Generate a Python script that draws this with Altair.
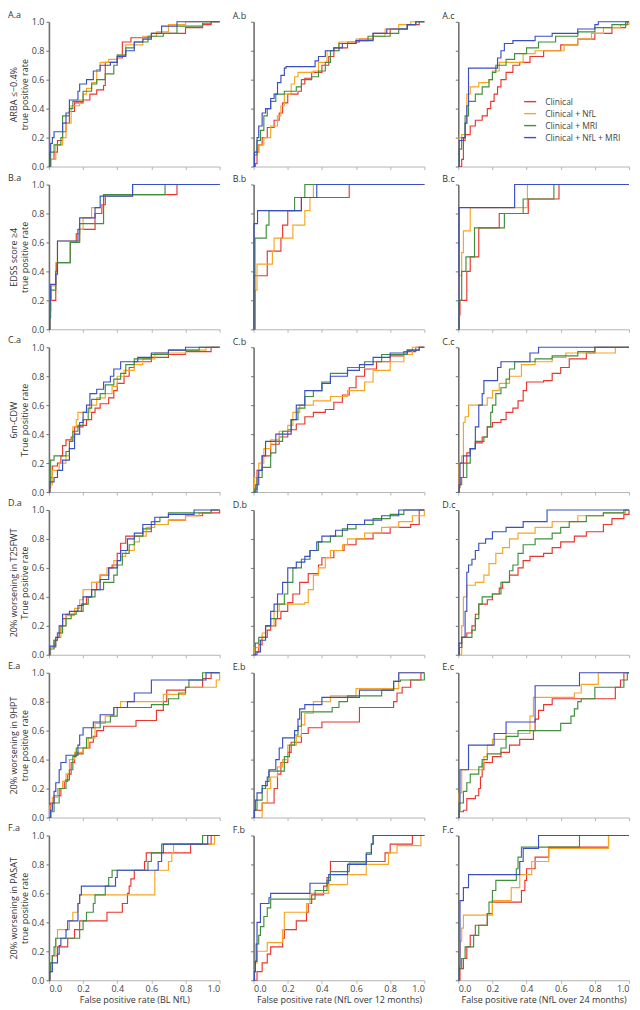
import altair as alt
import pandas as pd

SERIES = ["Clinical", "Clinical + NfL", "Clinical + MRI", "Clinical + NfL + MRI"]
COLORS = ["#e8362f", "#f5a623", "#3f8f3f", "#3a4fc4"]
ROWS = ["A", "B", "C", "D", "E", "F"]
COLS = ["a", "b", "c"]
Y_TITLES = [
    ["ARBA \u2264\u22120.4%", "true positive rate"],
    ["EDSS score \u22654", "true positive rate"],
    ["6m-CDW", "True positive rate"],
    ["20% worsening in T25FWT", "True positive rate"],
    ["20% worsening in 9HPT", "true positive rate"],
    ["20% worsening in PASAT", "true positive rate"],
]
X_TITLES = [
    "False positive rate (BL NfL)",
    "False positive rate (NfL over 12 months)",
    "False positive rate (NfL over 24 months)",
]
TICKS = [0.0, 0.2, 0.4, 0.6, 0.8, 1.0]

# ---- ROC curves: (false positive rate, true positive rate after the step) ----
Aa_clin = [(0,0),(0.01,0.05),(0.03,0.1),(0.05,0.18),(0.08,0.24),(0.1,0.3),(0.12,0.38),(0.15,0.44),(0.2,0.46),(0.24,0.5),(0.28,0.53),(0.32,0.56),(0.33,0.72),(0.4,0.75),(0.43,0.86),(0.48,0.89),(0.6,0.92),(0.8,0.96),(0.9,0.98),(0.95,1.0),(1.0,1.0)]
Aa_nfl = [(0,0),(0.01,0.05),(0.04,0.15),(0.08,0.2),(0.1,0.3),(0.13,0.42),(0.18,0.46),(0.2,0.5),(0.22,0.54),(0.25,0.58),(0.28,0.67),(0.3,0.72),(0.35,0.74),(0.4,0.77),(0.45,0.84),(0.55,0.9),(0.63,0.93),(0.7,0.98),(0.8,1.0),(1.0,1.0)]
Aa_mri = [(0,0),(0.01,0.1),(0.03,0.15),(0.07,0.2),(0.08,0.35),(0.12,0.4),(0.14,0.45),(0.2,0.52),(0.25,0.57),(0.28,0.6),(0.33,0.64),(0.38,0.7),(0.4,0.77),(0.45,0.82),(0.5,0.86),(0.58,0.9),(0.67,0.92),(0.75,0.97),(0.9,0.99),(0.95,1.0),(1.0,1.0)]
Aa_all = [(0,0),(0.005,0.1),(0.01,0.16),(0.02,0.2),(0.03,0.24),(0.08,0.3),(0.1,0.37),(0.12,0.46),(0.17,0.52),(0.18,0.57),(0.22,0.6),(0.26,0.66),(0.3,0.7),(0.36,0.72),(0.4,0.76),(0.45,0.8),(0.5,0.86),(0.55,0.88),(0.6,0.92),(0.66,0.97),(0.75,1.0),(1.0,1.0)]

Ab_clin = [(0,0),(0.01,0.02),(0.02,0.1),(0.03,0.15),(0.05,0.2),(0.08,0.27),(0.12,0.32),(0.15,0.37),(0.17,0.44),(0.2,0.5),(0.26,0.52),(0.28,0.57),(0.3,0.61),(0.34,0.65),(0.4,0.7),(0.44,0.76),(0.47,0.82),(0.55,0.86),(0.62,0.88),(0.7,0.92),(0.8,0.95),(0.9,0.98),(0.97,1.0),(1.0,1.0)]
Ab_nfl = [(0,0),(0.005,0.1),(0.03,0.15),(0.06,0.2),(0.1,0.28),(0.14,0.35),(0.16,0.42),(0.18,0.5),(0.22,0.57),(0.24,0.62),(0.26,0.65),(0.35,0.66),(0.38,0.72),(0.43,0.8),(0.5,0.86),(0.6,0.88),(0.7,0.9),(0.77,0.95),(0.85,0.98),(0.92,1.0),(1.0,1.0)]
Ab_mri = [(0,0),(0.005,0.08),(0.02,0.18),(0.04,0.25),(0.06,0.35),(0.08,0.4),(0.1,0.45),(0.13,0.5),(0.18,0.52),(0.25,0.55),(0.28,0.6),(0.34,0.62),(0.38,0.66),(0.42,0.72),(0.45,0.8),(0.5,0.85),(0.6,0.87),(0.67,0.9),(0.8,0.92),(0.85,0.95),(0.9,0.98),(0.95,1.0),(1.0,1.0)]
Ab_all = [(0,0),(0.005,0.1),(0.02,0.2),(0.03,0.28),(0.05,0.37),(0.07,0.4),(0.1,0.47),(0.12,0.5),(0.14,0.58),(0.16,0.63),(0.18,0.68),(0.19,0.69),(0.36,0.73),(0.38,0.76),(0.42,0.8),(0.47,0.82),(0.52,0.85),(0.6,0.87),(0.7,0.92),(0.78,0.95),(0.9,0.98),(0.95,1.0),(1.0,1.0)]

Ac_clin = [(0,0),(0.02,0.05),(0.03,0.18),(0.04,0.22),(0.07,0.28),(0.1,0.32),(0.14,0.35),(0.17,0.4),(0.19,0.45),(0.21,0.5),(0.23,0.55),(0.25,0.6),(0.28,0.65),(0.32,0.7),(0.36,0.72),(0.42,0.76),(0.5,0.8),(0.6,0.84),(0.7,0.88),(0.8,0.92),(0.9,0.96),(0.98,1.0),(1.0,1.0)]
Ac_nfl = [(0,0),(0.005,0.2),(0.02,0.22),(0.04,0.3),(0.05,0.5),(0.07,0.55),(0.12,0.58),(0.18,0.6),(0.2,0.66),(0.24,0.72),(0.38,0.78),(0.45,0.8),(0.62,0.84),(0.7,0.88),(0.78,0.92),(0.85,0.96),(0.95,0.98),(1.0,1.0)]
Ac_mri = [(0,0),(0.005,0.12),(0.02,0.2),(0.04,0.35),(0.06,0.45),(0.1,0.5),(0.14,0.55),(0.18,0.6),(0.2,0.65),(0.22,0.7),(0.28,0.74),(0.33,0.78),(0.4,0.82),(0.47,0.86),(0.57,0.9),(0.7,0.93),(0.8,0.96),(0.9,0.98),(0.99,1.0),(1.0,1.0)]
Ac_all = [(0,0),(0.005,0.18),(0.03,0.2),(0.04,0.3),(0.05,0.42),(0.06,0.68),(0.23,0.75),(0.25,0.8),(0.27,0.85),(0.32,0.87),(0.45,0.9),(0.55,0.92),(0.7,0.95),(0.8,0.98),(0.82,1.0),(1.0,1.0)]

Ba_clin = [(0,0),(0.005,0.13),(0.01,0.2),(0.04,0.4),(0.045,0.46),(0.125,0.6),(0.16,0.66),(0.18,0.69),(0.27,0.8),(0.31,0.86),(0.33,0.93),(0.75,1.0),(1.0,1.0)]
Ba_nfl = [(0,0),(0.005,0.2),(0.015,0.3),(0.04,0.46),(0.05,0.61),(0.18,0.69),(0.2,0.77),(0.25,0.84),(0.32,0.92),(0.49,1.0),(1.0,1.0)]
Ba_mri = [(0,0),(0.005,0.08),(0.01,0.27),(0.04,0.4),(0.05,0.46),(0.125,0.6),(0.18,0.73),(0.32,0.93),(0.68,1.0),(1.0,1.0)]
Ba_all = [(0,0),(0.005,0.2),(0.01,0.31),(0.04,0.38),(0.05,0.61),(0.17,0.69),(0.18,0.77),(0.27,0.84),(0.3,0.92),(0.49,1.0),(1.0,1.0)]

Bb_clin = [(0,0),(0.003,0.37),(0.08,0.54),(0.16,0.63),(0.17,0.72),(0.2,0.82),(0.28,0.91),(0.56,1.0),(1.0,1.0)]
Bb_nfl = [(0,0),(0.01,0.27),(0.02,0.45),(0.11,0.54),(0.12,0.63),(0.23,0.72),(0.3,0.82),(0.33,0.91),(0.35,1.0),(1.0,1.0)]
Bb_mri = [(0,0),(0.008,0.63),(0.074,0.72),(0.09,0.82),(0.24,0.91),(0.3,1.0),(1.0,1.0)]
Bb_all = [(0,0),(0.002,0.73),(0.023,0.82),(0.28,0.91),(0.37,1.0),(1.0,1.0)]

Bc_clin = [(0,0),(0.005,0.1),(0.01,0.2),(0.05,0.4),(0.07,0.5),(0.12,0.7),(0.24,0.8),(0.41,0.9),(0.59,1.0),(1.0,1.0)]
Bc_nfl = [(0,0),(0.006,0.37),(0.02,0.53),(0.03,0.68),(0.07,0.84),(0.405,1.0),(1.0,1.0)]
Bc_mri = [(0,0),(0.004,0.2),(0.02,0.4),(0.045,0.5),(0.095,0.7),(0.27,0.8),(0.38,0.9),(0.56,1.0),(1.0,1.0)]
Bc_all = [(0,0),(0.005,0.84),(0.33,1.0),(1.0,1.0)]

Ca_clin = [(0,0),(0.005,0.03),(0.01,0.1),(0.02,0.18),(0.05,0.2),(0.07,0.25),(0.08,0.32),(0.1,0.36),(0.13,0.38),(0.15,0.45),(0.2,0.46),(0.22,0.5),(0.25,0.55),(0.27,0.58),(0.3,0.61),(0.35,0.65),(0.38,0.7),(0.4,0.75),(0.44,0.8),(0.47,0.86),(0.5,0.9),(0.6,0.93),(0.7,0.95),(0.8,0.97),(0.95,1.0),(1.0,1.0)]
Ca_nfl = [(0,0),(0.005,0.05),(0.02,0.15),(0.06,0.2),(0.1,0.25),(0.12,0.35),(0.14,0.45),(0.16,0.5),(0.17,0.55),(0.24,0.6),(0.28,0.65),(0.33,0.68),(0.37,0.73),(0.4,0.8),(0.44,0.84),(0.5,0.88),(0.55,0.92),(0.62,0.96),(0.8,0.98),(0.92,1.0),(1.0,1.0)]
Ca_mri = [(0,0),(0.005,0.07),(0.01,0.22),(0.03,0.25),(0.1,0.28),(0.12,0.35),(0.14,0.42),(0.17,0.46),(0.2,0.5),(0.23,0.58),(0.25,0.64),(0.3,0.68),(0.33,0.74),(0.38,0.78),(0.42,0.82),(0.45,0.88),(0.5,0.92),(0.6,0.95),(0.7,0.98),(0.88,1.0),(1.0,1.0)]
Ca_all = [(0,0),(0.005,0.07),(0.03,0.1),(0.05,0.15),(0.08,0.22),(0.12,0.3),(0.15,0.4),(0.18,0.48),(0.2,0.55),(0.22,0.6),(0.24,0.68),(0.28,0.71),(0.32,0.76),(0.36,0.8),(0.38,0.85),(0.42,0.9),(0.52,0.93),(0.6,0.96),(0.7,0.98),(0.8,1.0),(1.0,1.0)]

Cb_clin = [(0,0),(0.01,0.05),(0.02,0.15),(0.05,0.25),(0.1,0.33),(0.15,0.38),(0.2,0.43),(0.25,0.47),(0.3,0.52),(0.35,0.55),(0.42,0.57),(0.47,0.62),(0.52,0.67),(0.56,0.72),(0.6,0.8),(0.65,0.85),(0.72,0.9),(0.8,0.94),(0.88,0.97),(0.95,1.0),(1.0,1.0)]
Cb_nfl = [(0,0),(0.005,0.1),(0.03,0.2),(0.06,0.3),(0.1,0.36),(0.15,0.42),(0.2,0.46),(0.23,0.55),(0.27,0.6),(0.35,0.63),(0.45,0.66),(0.55,0.7),(0.65,0.76),(0.7,0.84),(0.8,0.9),(0.88,0.95),(0.93,1.0),(1.0,1.0)]
Cb_mri = [(0,0),(0.005,0.02),(0.02,0.1),(0.05,0.17),(0.1,0.27),(0.13,0.35),(0.17,0.42),(0.22,0.5),(0.26,0.58),(0.3,0.66),(0.35,0.7),(0.4,0.76),(0.45,0.82),(0.55,0.86),(0.65,0.9),(0.75,0.95),(0.9,0.98),(0.97,1.0),(1.0,1.0)]
Cb_all = [(0,0),(0.02,0.05),(0.03,0.15),(0.05,0.25),(0.07,0.35),(0.13,0.4),(0.22,0.5),(0.25,0.6),(0.3,0.7),(0.4,0.75),(0.45,0.8),(0.55,0.84),(0.62,0.88),(0.7,0.93),(0.8,0.96),(0.9,0.98),(0.97,1.0),(1.0,1.0)]

Cc_clin = [(0,0),(0.005,0.03),(0.01,0.1),(0.03,0.2),(0.05,0.27),(0.07,0.3),(0.1,0.34),(0.14,0.38),(0.17,0.45),(0.2,0.48),(0.25,0.5),(0.28,0.55),(0.32,0.58),(0.35,0.63),(0.38,0.7),(0.4,0.76),(0.5,0.77),(0.55,0.82),(0.6,0.86),(0.65,0.92),(0.75,0.96),(0.8,1.0),(1.0,1.0)]
Cc_nfl = [(0,0),(0.005,0.2),(0.02,0.25),(0.03,0.48),(0.04,0.52),(0.06,0.6),(0.17,0.65),(0.2,0.7),(0.24,0.75),(0.3,0.8),(0.37,0.88),(0.45,0.9),(0.55,0.93),(0.63,0.96),(0.92,1.0),(1.0,1.0)]
Cc_mri = [(0,0),(0.005,0.05),(0.02,0.1),(0.05,0.2),(0.07,0.3),(0.1,0.35),(0.15,0.38),(0.17,0.45),(0.19,0.55),(0.2,0.6),(0.22,0.68),(0.25,0.72),(0.28,0.78),(0.3,0.85),(0.33,0.9),(0.45,0.92),(0.55,0.94),(0.7,0.97),(0.8,1.0),(1.0,1.0)]
Cc_all = [(0,0),(0.005,0.05),(0.01,0.2),(0.03,0.25),(0.07,0.3),(0.1,0.45),(0.12,0.6),(0.14,0.68),(0.15,0.77),(0.23,0.86),(0.25,0.9),(0.42,0.96),(0.47,1.0),(1.0,1.0)]

Da_clin = [(0,0),(0.005,0.05),(0.03,0.1),(0.05,0.15),(0.07,0.2),(0.08,0.25),(0.1,0.28),(0.15,0.3),(0.19,0.35),(0.22,0.4),(0.25,0.45),(0.28,0.5),(0.3,0.55),(0.35,0.6),(0.37,0.62),(0.4,0.7),(0.42,0.77),(0.45,0.82),(0.55,0.85),(0.6,0.9),(0.7,0.93),(0.8,0.96),(0.9,0.98),(1.0,1.0)]
Da_nfl = [(0,0),(0.01,0.05),(0.04,0.12),(0.07,0.2),(0.1,0.27),(0.15,0.32),(0.18,0.38),(0.2,0.45),(0.25,0.5),(0.3,0.55),(0.34,0.6),(0.38,0.65),(0.42,0.68),(0.45,0.72),(0.5,0.78),(0.53,0.82),(0.57,0.88),(0.62,0.9),(0.7,0.93),(0.8,0.96),(0.88,0.98),(0.95,1.0),(1.0,1.0)]
Da_mri = [(0,0),(0.005,0.04),(0.03,0.1),(0.05,0.15),(0.08,0.2),(0.1,0.25),(0.13,0.28),(0.16,0.3),(0.2,0.35),(0.23,0.4),(0.27,0.45),(0.32,0.5),(0.38,0.55),(0.4,0.62),(0.43,0.7),(0.47,0.76),(0.5,0.82),(0.55,0.87),(0.6,0.92),(0.65,0.95),(0.7,0.98),(0.95,1.0),(1.0,1.0)]
Da_all = [(0,0),(0.005,0.06),(0.04,0.12),(0.06,0.2),(0.08,0.28),(0.12,0.3),(0.17,0.34),(0.2,0.4),(0.25,0.45),(0.3,0.52),(0.35,0.6),(0.4,0.65),(0.42,0.72),(0.46,0.8),(0.5,0.84),(0.55,0.9),(0.62,0.95),(0.7,0.97),(0.85,1.0),(1.0,1.0)]

Db_clin = [(0,0),(0.01,0.02),(0.03,0.07),(0.05,0.12),(0.08,0.17),(0.1,0.2),(0.13,0.25),(0.16,0.3),(0.2,0.36),(0.23,0.42),(0.27,0.5),(0.32,0.56),(0.38,0.62),(0.4,0.67),(0.47,0.72),(0.53,0.76),(0.6,0.8),(0.7,0.84),(0.8,0.88),(0.92,0.9),(0.97,1.0),(1.0,1.0)]
Db_nfl = [(0,0),(0.005,0.05),(0.03,0.1),(0.05,0.15),(0.07,0.2),(0.12,0.3),(0.15,0.35),(0.3,0.36),(0.32,0.45),(0.35,0.55),(0.38,0.6),(0.42,0.67),(0.45,0.72),(0.52,0.76),(0.55,0.8),(0.65,0.84),(0.75,0.88),(0.85,0.92),(0.93,0.96),(1.0,1.0)]
Db_mri = [(0,0),(0.01,0.08),(0.03,0.12),(0.07,0.2),(0.1,0.25),(0.14,0.35),(0.18,0.42),(0.2,0.5),(0.23,0.6),(0.28,0.66),(0.33,0.72),(0.38,0.78),(0.45,0.82),(0.52,0.87),(0.6,0.9),(0.7,0.94),(0.8,0.97),(0.88,1.0),(1.0,1.0)]
Db_all = [(0,0),(0.02,0.02),(0.04,0.1),(0.07,0.2),(0.1,0.3),(0.12,0.35),(0.14,0.42),(0.17,0.5),(0.2,0.6),(0.25,0.64),(0.3,0.68),(0.33,0.72),(0.37,0.78),(0.4,0.82),(0.48,0.86),(0.55,0.9),(0.65,0.93),(0.75,0.96),(0.85,1.0),(1.0,1.0)]

Dc_clin = [(0,0),(0.005,0.05),(0.02,0.12),(0.05,0.15),(0.08,0.2),(0.1,0.28),(0.12,0.35),(0.17,0.38),(0.2,0.42),(0.24,0.46),(0.26,0.5),(0.3,0.55),(0.35,0.6),(0.38,0.65),(0.42,0.68),(0.5,0.7),(0.55,0.74),(0.6,0.78),(0.68,0.82),(0.75,0.85),(0.85,0.9),(0.9,0.94),(0.97,0.97),(1.0,1.0)]
Dc_nfl = [(0,0),(0.02,0.2),(0.03,0.4),(0.05,0.48),(0.1,0.5),(0.15,0.55),(0.18,0.63),(0.22,0.7),(0.26,0.74),(0.3,0.8),(0.35,0.84),(0.45,0.88),(0.55,0.92),(0.7,0.96),(0.85,0.98),(0.98,1.0),(1.0,1.0)]
Dc_mri = [(0,0),(0.005,0.05),(0.02,0.12),(0.08,0.17),(0.1,0.25),(0.12,0.35),(0.14,0.4),(0.2,0.42),(0.25,0.5),(0.3,0.58),(0.32,0.62),(0.35,0.7),(0.38,0.76),(0.45,0.8),(0.55,0.84),(0.6,0.88),(0.65,0.92),(0.75,0.96),(0.85,0.98),(0.97,1.0),(1.0,1.0)]
Dc_all = [(0,0),(0.005,0.08),(0.02,0.12),(0.04,0.3),(0.05,0.57),(0.06,0.62),(0.08,0.66),(0.1,0.72),(0.12,0.77),(0.16,0.8),(0.2,0.85),(0.28,0.88),(0.38,0.92),(0.52,1.0),(1.0,1.0)]

Ea_clin = [(0,0),(0.01,0.1),(0.03,0.15),(0.07,0.2),(0.09,0.25),(0.11,0.3),(0.13,0.38),(0.15,0.44),(0.2,0.48),(0.24,0.52),(0.26,0.56),(0.28,0.6),(0.32,0.63),(0.51,0.67),(0.63,0.74),(0.67,0.8),(0.69,0.88),(0.8,0.9),(0.9,0.96),(0.95,1.0),(1.0,1.0)]
Ea_nfl = [(0,0),(0.005,0.08),(0.02,0.14),(0.05,0.2),(0.08,0.25),(0.1,0.3),(0.12,0.4),(0.15,0.45),(0.2,0.48),(0.23,0.55),(0.27,0.65),(0.33,0.7),(0.38,0.76),(0.42,0.8),(0.67,0.85),(0.8,0.9),(0.98,0.95),(1.0,1.0)]
Ea_mri = [(0,0),(0.01,0.04),(0.03,0.1),(0.06,0.2),(0.1,0.26),(0.12,0.33),(0.14,0.42),(0.16,0.48),(0.22,0.55),(0.25,0.62),(0.3,0.66),(0.36,0.7),(0.4,0.76),(0.6,0.78),(0.7,0.82),(0.76,0.86),(0.8,0.9),(0.82,0.95),(0.9,1.0),(1.0,1.0)]
Ea_all = [(0,0),(0.01,0.05),(0.02,0.1),(0.03,0.18),(0.04,0.24),(0.06,0.33),(0.07,0.38),(0.1,0.43),(0.17,0.5),(0.18,0.57),(0.2,0.62),(0.26,0.66),(0.3,0.71),(0.38,0.76),(0.46,0.8),(0.5,0.86),(0.6,0.95),(0.92,1.0),(1.0,1.0)]

Eb_clin = [(0,0),(0.005,0.05),(0.05,0.1),(0.12,0.2),(0.14,0.3),(0.16,0.38),(0.2,0.45),(0.22,0.52),(0.28,0.58),(0.32,0.62),(0.4,0.66),(0.62,0.76),(0.82,0.8),(0.84,0.86),(0.87,0.9),(0.92,0.95),(0.98,1.0),(1.0,1.0)]
Eb_nfl = [(0,0),(0.05,0.1),(0.08,0.2),(0.1,0.28),(0.14,0.35),(0.17,0.4),(0.2,0.5),(0.25,0.56),(0.28,0.64),(0.3,0.72),(0.35,0.8),(0.45,0.84),(0.6,0.89),(0.85,1.0),(1.0,1.0)]
Eb_mri = [(0,0),(0.005,0.05),(0.02,0.12),(0.05,0.2),(0.07,0.25),(0.09,0.32),(0.18,0.42),(0.21,0.5),(0.24,0.57),(0.26,0.63),(0.28,0.73),(0.46,0.76),(0.5,0.8),(0.55,0.84),(0.75,0.88),(0.82,0.94),(0.86,0.95),(1.0,1.0)]
Eb_all = [(0,0),(0.005,0.05),(0.01,0.12),(0.02,0.17),(0.05,0.22),(0.08,0.28),(0.09,0.33),(0.13,0.4),(0.15,0.48),(0.17,0.55),(0.24,0.6),(0.26,0.68),(0.27,0.75),(0.3,0.78),(0.4,0.83),(0.62,0.88),(0.82,0.94),(0.85,1.0),(1.0,1.0)]

Ec_clin = [(0,0),(0.005,0.04),(0.03,0.05),(0.05,0.13),(0.1,0.15),(0.12,0.2),(0.13,0.28),(0.14,0.33),(0.15,0.38),(0.2,0.42),(0.25,0.45),(0.3,0.5),(0.36,0.54),(0.44,0.6),(0.45,0.68),(0.47,0.74),(0.5,0.78),(0.55,0.82),(0.92,0.9),(0.95,0.95),(0.97,1.0),(1.0,1.0)]
Ec_nfl = [(0,0),(0.005,0.17),(0.02,0.33),(0.14,0.38),(0.15,0.42),(0.17,0.5),(0.2,0.54),(0.28,0.58),(0.42,0.7),(0.44,0.83),(0.68,0.86),(0.72,0.92),(0.82,1.0),(1.0,1.0)]
Ec_mri = [(0,0),(0.005,0.05),(0.01,0.1),(0.03,0.18),(0.05,0.24),(0.07,0.3),(0.12,0.35),(0.14,0.4),(0.17,0.44),(0.25,0.48),(0.28,0.56),(0.35,0.6),(0.6,0.65),(0.66,0.7),(0.68,0.75),(0.7,0.8),(0.72,0.82),(0.8,0.9),(0.97,0.95),(0.99,1.0),(1.0,1.0)]
Ec_all = [(0,0),(0.005,0.1),(0.01,0.33),(0.06,0.5),(0.21,0.58),(0.28,0.66),(0.45,0.91),(0.71,1.0),(1.0,1.0)]

Fa_clin = [(0,0),(0.005,0.06),(0.01,0.12),(0.02,0.17),(0.05,0.23),(0.11,0.29),(0.15,0.35),(0.18,0.41),(0.34,0.47),(0.43,0.53),(0.46,0.6),(0.47,0.65),(0.48,0.7),(0.5,0.76),(0.56,0.82),(0.57,0.88),(0.83,0.94),(0.95,1.0),(1.0,1.0)]
Fa_nfl = [(0,0),(0.005,0.06),(0.02,0.17),(0.04,0.29),(0.05,0.35),(0.12,0.41),(0.14,0.47),(0.17,0.53),(0.18,0.59),(0.62,0.76),(0.7,0.82),(0.72,0.88),(0.73,0.94),(0.97,1.0),(1.0,1.0)]
Fa_mri = [(0,0),(0.005,0.06),(0.01,0.12),(0.02,0.17),(0.03,0.23),(0.04,0.29),(0.18,0.35),(0.2,0.41),(0.22,0.47),(0.26,0.53),(0.27,0.59),(0.33,0.65),(0.35,0.71),(0.37,0.76),(0.58,0.82),(0.6,0.88),(0.66,0.94),(0.9,1.0),(1.0,1.0)]
Fa_all = [(0,0),(0.005,0.06),(0.02,0.12),(0.05,0.18),(0.06,0.24),(0.07,0.29),(0.1,0.35),(0.11,0.41),(0.17,0.53),(0.18,0.59),(0.19,0.65),(0.39,0.71),(0.4,0.76),(0.64,0.82),(0.66,0.88),(0.67,0.94),(0.93,1.0),(1.0,1.0)]

Fb_clin = [(0,0),(0.02,0.06),(0.05,0.12),(0.08,0.18),(0.1,0.23),(0.17,0.29),(0.18,0.35),(0.25,0.41),(0.31,0.47),(0.32,0.53),(0.34,0.59),(0.41,0.65),(0.43,0.71),(0.45,0.82),(0.77,0.88),(0.8,0.94),(0.93,1.0),(1.0,1.0)]
Fb_nfl = [(0,0),(0.005,0.06),(0.01,0.12),(0.02,0.2),(0.08,0.26),(0.17,0.35),(0.18,0.47),(0.31,0.53),(0.33,0.6),(0.44,0.66),(0.55,0.73),(0.66,0.8),(0.79,0.88),(0.84,0.93),(0.98,1.0),(1.0,1.0)]
Fb_mri = [(0,0),(0.005,0.06),(0.01,0.13),(0.02,0.25),(0.03,0.31),(0.04,0.37),(0.06,0.44),(0.08,0.5),(0.1,0.56),(0.36,0.62),(0.43,0.69),(0.45,0.75),(0.56,0.81),(0.66,0.88),(0.69,0.94),(0.7,1.0),(1.0,1.0)]
Fb_all = [(0,0),(0.005,0.06),(0.01,0.13),(0.015,0.25),(0.02,0.4),(0.04,0.53),(0.09,0.57),(0.1,0.6),(0.33,0.67),(0.44,0.73),(0.55,0.8),(0.66,0.87),(0.69,0.94),(0.7,1.0),(1.0,1.0)]

Fc_clin = [(0,0),(0.01,0.08),(0.03,0.15),(0.05,0.23),(0.07,0.31),(0.1,0.38),(0.17,0.46),(0.2,0.54),(0.37,0.62),(0.39,0.69),(0.4,0.77),(0.45,0.85),(0.53,0.92),(0.88,1.0),(1.0,1.0)]
Fc_nfl = [(0,0),(0.005,0.09),(0.01,0.27),(0.02,0.36),(0.03,0.45),(0.2,0.55),(0.31,0.64),(0.36,0.73),(0.43,0.82),(0.53,0.91),(0.88,1.0),(1.0,1.0)]
Fc_mri = [(0,0),(0.005,0.08),(0.02,0.15),(0.04,0.23),(0.09,0.31),(0.12,0.38),(0.17,0.46),(0.18,0.54),(0.2,0.62),(0.22,0.69),(0.34,0.77),(0.35,0.85),(0.37,0.92),(0.71,1.0),(1.0,1.0)]
Fc_all = [(0,0),(0.005,0.09),(0.01,0.55),(0.03,0.64),(0.06,0.73),(0.36,0.82),(0.38,0.91),(0.47,1.0),(1.0,1.0)]

CURVES = {
    ("A", "a"): [Aa_clin, Aa_nfl, Aa_mri, Aa_all],
    ("A", "b"): [Ab_clin, Ab_nfl, Ab_mri, Ab_all],
    ("A", "c"): [Ac_clin, Ac_nfl, Ac_mri, Ac_all],
    ("B", "a"): [Ba_clin, Ba_nfl, Ba_mri, Ba_all],
    ("B", "b"): [Bb_clin, Bb_nfl, Bb_mri, Bb_all],
    ("B", "c"): [Bc_clin, Bc_nfl, Bc_mri, Bc_all],
    ("C", "a"): [Ca_clin, Ca_nfl, Ca_mri, Ca_all],
    ("C", "b"): [Cb_clin, Cb_nfl, Cb_mri, Cb_all],
    ("C", "c"): [Cc_clin, Cc_nfl, Cc_mri, Cc_all],
    ("D", "a"): [Da_clin, Da_nfl, Da_mri, Da_all],
    ("D", "b"): [Db_clin, Db_nfl, Db_mri, Db_all],
    ("D", "c"): [Dc_clin, Dc_nfl, Dc_mri, Dc_all],
    ("E", "a"): [Ea_clin, Ea_nfl, Ea_mri, Ea_all],
    ("E", "b"): [Eb_clin, Eb_nfl, Eb_mri, Eb_all],
    ("E", "c"): [Ec_clin, Ec_nfl, Ec_mri, Ec_all],
    ("F", "a"): [Fa_clin, Fa_nfl, Fa_mri, Fa_all],
    ("F", "b"): [Fb_clin, Fb_nfl, Fb_mri, Fb_all],
    ("F", "c"): [Fc_clin, Fc_nfl, Fc_mri, Fc_all],
}

W, H = 171, 145
FONT = "Open Sans"
TXT = "#333333"
TITLE_DX = [-41, -21, -16]


def panel(ri, ci):
    r, c = ROWS[ri], COLS[ci]
    recs = []
    for s, pts in zip(SERIES, CURVES[(r, c)]):
        for i, (x, y) in enumerate(pts):
            recs.append({"series": s, "idx": i, "fpr": x, "tpr": y})
    df = pd.DataFrame(recs)

    xkw = dict(values=TICKS, format=".1f", grid=False, domainColor="#b5b5b5",
               domainWidth=1, tickColor="#b5b5b5", tickSize=3,
               labelFontSize=9, labelColor="#444444", labelPadding=1,
               titleFontSize=9, titleFontWeight="normal", titleColor=TXT,
               titlePadding=2)
    if ri == len(ROWS) - 1:
        xkw.update(labels=True, title=X_TITLES[ci])
    else:
        xkw.update(labels=False, title=None)

    ykw = dict(values=TICKS, format=".1f", grid=False, domainColor="#707070",
               domainWidth=1.6, tickColor="#707070", tickSize=3,
               labelFontSize=9, labelColor="#444444", labelPadding=2,
               titleFontSize=9, titleFontWeight="normal", titleColor=TXT,
               titlePadding=2, titleLineHeight=11)
    if ci == 0:
        ykw.update(labels=True, title=Y_TITLES[ri])
    else:
        ykw.update(labels=False, title=None)

    return (
        alt.Chart(df)
        .mark_line(interpolate="step-after", strokeWidth=1.15)
        .encode(
            x=alt.X("fpr:Q", scale=alt.Scale(domain=[0, 1], nice=False), axis=alt.Axis(**xkw)),
            y=alt.Y("tpr:Q", scale=alt.Scale(domain=[0, 1], nice=False), axis=alt.Axis(**ykw)),
            color=alt.Color(
                "series:N",
                scale=alt.Scale(domain=SERIES, range=COLORS),
                legend=alt.Legend(
                    title=None, orient="none", legendX=475, legendY=73,
                    symbolType="stroke", symbolStrokeWidth=1.4, symbolSize=144,
                    labelFontSize=8.5, labelColor="#444444", labelFont=FONT,
                    rowPadding=0, labelOffset=8,
                ),
            ),
            order=alt.Order("idx:Q"),
        )
        .properties(
            width=W, height=H,
            title=alt.TitleParams(
                text=f"{r}.{c}", anchor="start", frame="group", dx=TITLE_DX[ci],
                fontSize=9, fontWeight="normal", color=TXT, font=FONT, offset=-2,
            ),
        )
    )


panels = [panel(ri, ci) for ri in range(len(ROWS)) for ci in range(len(COLS))]

chart = (
    alt.concat(*panels, columns=3, spacing={"row": 18, "column": 34}, bounds="flush")
    .properties(padding={"left": 0, "top": 2, "right": 0, "bottom": 0})
    .configure(font=FONT)
    .configure_view(stroke=None)
)

chart.save("out.html", embed_options={"renderer": "svg", "actions": False})
